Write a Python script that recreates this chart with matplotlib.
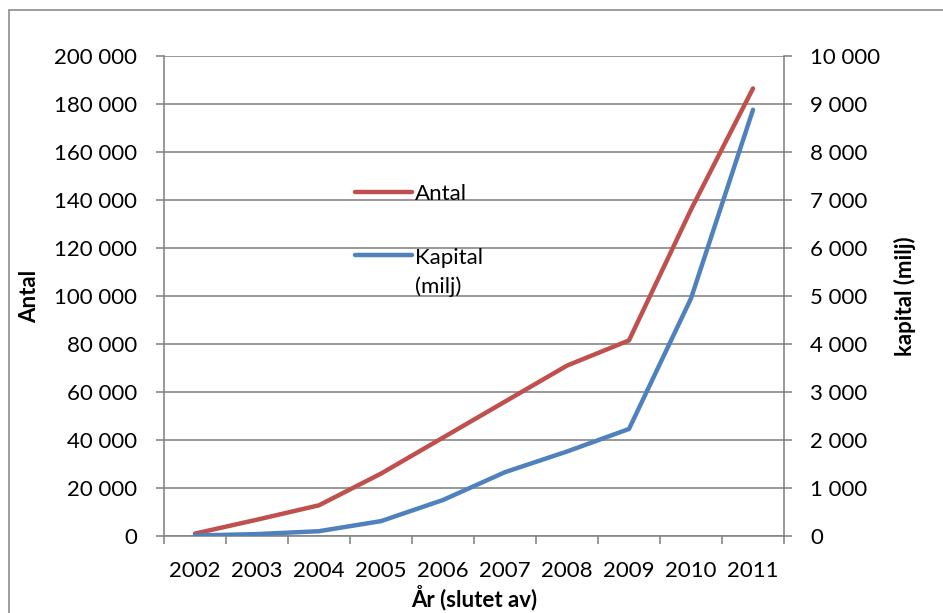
import matplotlib
matplotlib.use("Agg")
import matplotlib.pyplot as plt
from matplotlib.ticker import FuncFormatter, FixedLocator, NullFormatter
from matplotlib.patches import Rectangle
from matplotlib.legend_handler import HandlerLine2D

plt.rcParams['font.family'] = ['Lato', 'DejaVu Sans']

years = ['2002', '2003', '2004', '2005', '2006', '2007', '2008', '2009', '2010', '2011']
antal = [1000, 6800, 12800, 26000, 41000, 56000, 71000, 81500, 136000, 186500]
kapital = [10, 40, 100, 310, 750, 1330, 1760, 2230, 4950, 8880]

red = '#C0504D'
blue = '#4F81BD'
gray = '#868686'
FS = 16

fig = plt.figure(figsize=(9.43, 6.13), dpi=100)
ax = fig.add_axes([164/943, 1-536/613, (784-164)/943, (536-56)/613])
ax2 = ax.twinx()

x = list(range(len(years)))
l1, = ax.plot(x, antal, color=red, lw=3.2, solid_capstyle='round', label='Antal', zorder=3)
l2, = ax2.plot(x, kapital, color=blue, lw=3.2, solid_capstyle='round', label='Kapital\n(milj)', zorder=3)

ax.set_xlim(-0.5, len(years) - 0.5)
ax.set_ylim(0, 200000)
ax2.set_ylim(0, 10000)
ax.set_yticks(range(0, 200001, 20000))
ax2.set_yticks(range(0, 10001, 1000))

fmt = FuncFormatter(lambda v, p: f"{int(v):,}".replace(",", " "))
ax.yaxis.set_major_formatter(fmt)
ax2.yaxis.set_major_formatter(fmt)

ax.xaxis.set_major_locator(FixedLocator([i - 0.5 for i in range(len(years) + 1)]))
ax.xaxis.set_major_formatter(NullFormatter())
ax.set_xticks(x, years, minor=True)

ax.grid(axis='y', color=gray, lw=1.2)
ax.set_axisbelow(True)

ax.spines['top'].set_visible(False)
ax2.spines['top'].set_visible(False)
ax.spines['right'].set_visible(False)
ax2.spines['left'].set_visible(False)
ax2.spines['bottom'].set_visible(False)
for sp in (ax.spines['left'], ax.spines['bottom'], ax2.spines['right']):
    sp.set_color(gray)
    sp.set_linewidth(1.2)

ax.tick_params(axis='y', which='major', length=6, width=1.2, color=gray, pad=13.5, labelsize=FS)
ax2.tick_params(axis='y', which='major', length=6, width=1.2, color=gray, pad=13, labelsize=FS)
ax.tick_params(axis='x', which='major', length=6, width=1.2, color=gray)
ax.tick_params(axis='x', which='minor', length=0, pad=18, labelsize=FS)

ax.set_ylabel('Antal', fontsize=FS, fontweight='bold', labelpad=10)
ax2.set_ylabel('kapital (milj)', fontsize=FS, fontweight='bold', labelpad=10)
ax.set_xlabel('År (slutet av)', fontsize=FS, fontweight='bold', labelpad=3)


class TopLineHandler(HandlerLine2D):
    def __init__(self, shift=0.0, **kw):
        super().__init__(**kw)
        self.shift = shift

    def create_artists(self, legend, orig_handle, xdescent, ydescent, width, height, fontsize, trans):
        arts = super().create_artists(legend, orig_handle, xdescent, ydescent, width, height, fontsize, trans)
        for a in arts:
            yd = a.get_ydata()
            a.set_ydata([y + self.shift * fontsize for y in yd])
        return arts


leg = fig.legend([l1, l2], ['Antal', 'Kapital\n(milj)'], loc='upper left',
                 bbox_to_anchor=(335/943, 1-164/613), frameon=False, fontsize=FS,
                 handlelength=2.55, handletextpad=0.15, labelspacing=1.97,
                 handler_map={l2: TopLineHandler(shift=0.8)})
for t in leg.get_texts():
    t.set_linespacing(1.55)

fig.patches.append(Rectangle((8.5/943, -0.1), 1.2, 1.1 - 10.5/613, transform=fig.transFigure,
                             fill=False, edgecolor='#8c8c8c', lw=1.2))

fig.savefig('out.png', dpi=100)
